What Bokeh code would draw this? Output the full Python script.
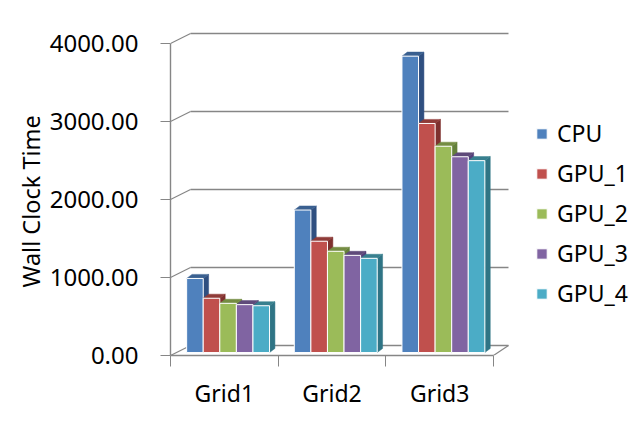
from bokeh.plotting import figure
from bokeh.models import FixedTicker, NumeralTickFormatter, Legend, LegendItem, Range1d, Title
from bokeh.embed import file_html
from bokeh.resources import INLINE

categories = ["Grid1", "Grid2", "Grid3"]
series = ["CPU", "GPU_1", "GPU_2", "GPU_3", "GPU_4"]
cpu = [950, 1827, 3800]
gpu_1 = [696, 1427, 2937]
gpu_2 = [631, 1298, 2645]
gpu_3 = [614, 1246, 2510]
gpu_4 = [600, 1208, 2460]
values = [cpu, gpu_1, gpu_2, gpu_3, gpu_4]
y_ticks = [0, 1000, 2000, 3000, 4000]
front = ["#4F81BD", "#C0504D", "#9BBB59", "#8064A2", "#4BACC6"]
side = ["#2F4F80", "#7E302E", "#64803A", "#54407A", "#2F7485"]
top = ["#3A6090", "#8F3B38", "#748C42", "#5F4A7A", "#38808F"]

FONT = "Noto Sans"
# projection of the chart's depth, in data units
WALL_DX, WALL_DY = 0.186, 128
BAR_DX, BAR_DY = 0.05, 52
BAR_W = 0.154
GROUP_LEFT = -0.35   # first bar's left edge relative to the category position
BASE = 38

p = figure(width=634, height=416, output_backend="svg", toolbar_location=None,
           x_range=Range1d(0.5, 4.81), y_range=Range1d(0, 4295),
           min_border_left=170, min_border_right=0, min_border_top=20, min_border_bottom=61)
p.outline_line_color = None
p.grid.visible = False
p.background_fill_color = "white"
p.border_fill_color = "white"

GRAY = "#868686"
# back wall and floor
p.segment(x0=[0.5 + WALL_DX] * 5, x1=[3.5 + WALL_DX * 0.75] * 5,
          y0=[t + WALL_DY for t in y_ticks], y1=[t + WALL_DY for t in y_ticks],
          line_color=GRAY, line_width=1.4)
p.segment(x0=[0.5] * 5, x1=[0.5 + WALL_DX] * 5,
          y0=y_ticks, y1=[t + WALL_DY for t in y_ticks], line_color=GRAY, line_width=1.2)
p.segment(x0=[3.5], x1=[3.5 + WALL_DX * 0.75], y0=[0], y1=[WALL_DY], line_color=GRAY, line_width=1.2)

items = []
for s, name in enumerate(series):
    lefts = [c + 1 + GROUP_LEFT + s * BAR_W for c in range(3)]
    rights = [l + BAR_W for l in lefts]
    tops = [v + BASE for v in values[s]]
    side_x = [[r, r + BAR_DX, r + BAR_DX, r] for r in rights]
    side_y = [[BASE, BASE + BAR_DY, t + BAR_DY, t] for t in tops]
    top_x = [[l, l + BAR_DX, r + BAR_DX, r] for l, r in zip(lefts, rights)]
    top_y = [[t, t + BAR_DY, t + BAR_DY, t] for t in tops]
    p.patches(side_x, side_y, fill_color=side[s], line_color=side[s], line_width=0.5)
    p.patches(top_x, top_y, fill_color=top[s], line_color=top[s], line_width=0.5)
    r = p.quad(left=lefts, right=rights, bottom=[BASE] * 3, top=tops,
               fill_color=front[s], line_color="white", line_width=1)
    items.append(LegendItem(label=name, renderers=[r]))

# axes
ya = p.yaxis[0]
ya.ticker = FixedTicker(ticks=y_ticks)
ya.formatter = NumeralTickFormatter(format="0.00")
ya.bounds = (0, 4000)
ya.axis_line_color = GRAY
ya.axis_line_width = 1.4
ya.major_tick_line_color = GRAY
ya.major_tick_out = 10
ya.major_tick_in = 0
ya.minor_tick_line_color = None
ya.major_label_standoff = 22
ya.major_label_text_font = FONT
ya.major_label_text_font_size = "24px"
ya.major_label_text_color = "black"

xa = p.xaxis[0]
xa.ticker = FixedTicker(ticks=[1, 2, 3], minor_ticks=[0.5, 1.5, 2.5, 3.5])
xa.major_label_overrides = {i + 1: c for i, c in enumerate(categories)}
xa.bounds = (0.5, 3.5)
xa.axis_line_color = GRAY
xa.axis_line_width = 1.6
xa.major_tick_line_color = None
xa.major_tick_out = 0
xa.major_tick_in = 0
xa.minor_tick_line_color = GRAY
xa.minor_tick_out = 11
xa.minor_tick_in = 0
xa.major_label_standoff = 10
xa.major_label_text_font = FONT
xa.major_label_text_font_size = "23px"
xa.major_label_text_color = "black"

p.add_layout(Title(text="Wall Clock Time", align="left", offset=68, standoff=0,
                   text_font=FONT, text_font_size="23.5px", text_font_style="normal",
                   text_color="black"), "left")

legend = Legend(items=items, location=(365, 46), orientation="vertical",
                glyph_width=13, glyph_height=13, label_width=60, label_height=20,
                spacing=8, padding=0, margin=0, label_standoff=9,
                border_line_color=None, background_fill_alpha=0,
                label_text_font=FONT, label_text_font_size="23px", label_text_color="black")
p.add_layout(legend, "center")

open("out.html", "w").write(file_html(p, INLINE))
